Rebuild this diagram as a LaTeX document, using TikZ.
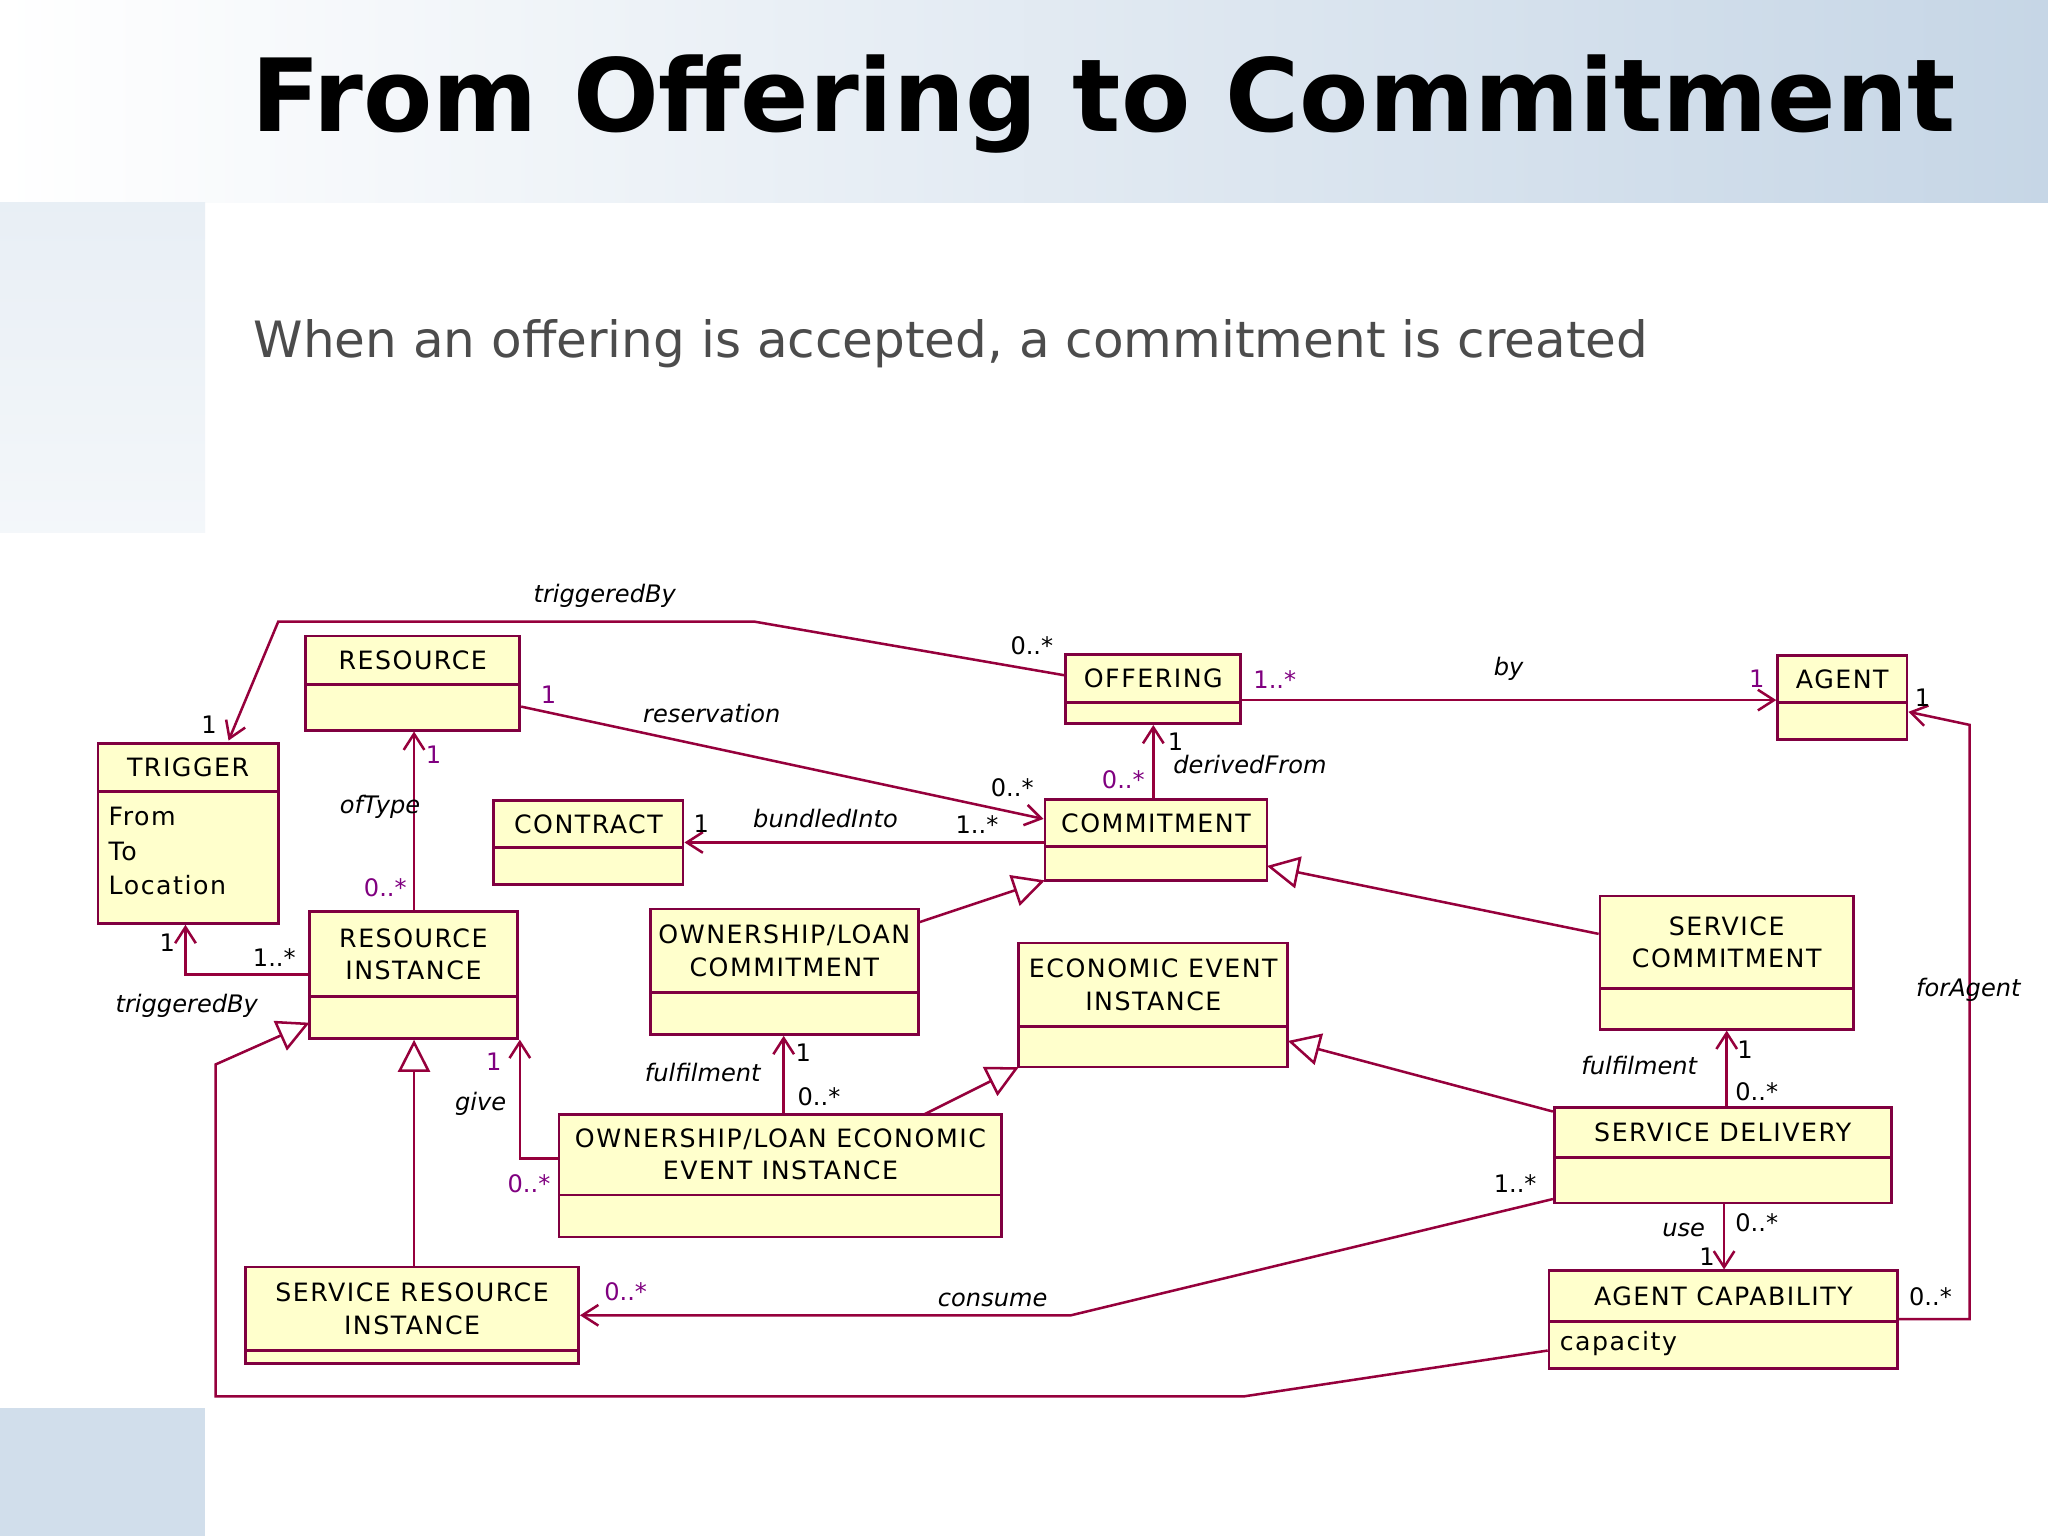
\documentclass[tikz,border=0pt]{standalone}
\usepackage{fontspec}
\setmainfont{DejaVu Sans}
\usetikzlibrary{arrows.meta,fit}
\definecolor{boxfill}{RGB}{255,255,204}
\definecolor{boxline}{RGB}{128,0,64}
\definecolor{lnk}{RGB}{150,0,60}
\definecolor{mult}{RGB}{128,0,128}
\definecolor{hdr}{RGB}{198,214,230}
\tikzset{
  umlbox/.style={draw=boxline,fill=boxfill,line width=1.2pt,inner sep=0pt},
  assoc/.style={draw=lnk,line width=1.1pt,-{Straight Barb[length=7pt,width=9pt]}},
  plain/.style={draw=lnk,line width=1.1pt},
  gen/.style={draw=lnk,line width=1.1pt,-{Triangle[open,length=14pt,width=14pt,fill=white]}},
  btxt/.style={font=\fontsize{11}{14}\selectfont\addfontfeatures{LetterSpace=6},align=center},
  lbl/.style={font=\fontsize{10.5}{12}\selectfont\itshape,inner sep=1pt},
  ml/.style={font=\fontsize{10.5}{12}\selectfont,inner sep=1pt},
  mp/.style={ml,text=mult}
}
\newcommand{\umlb}[7]{%
  \node[umlbox,fit={(#2,#3)(#4,#5)}] (#1) {};
  \draw[boxline,line width=1.2pt] (#2,#6) -- (#4,#6);
  \node[btxt] at ({(#2+#4)/2},{(#3+#6)/2}) {#7};
}
\begin{document}
\begin{tikzpicture}[x=0.02cm,y=-0.02cm]
\useasboundingbox (0,0) rectangle (1568,1176);
\fill[white] (0,0) rectangle (1568,1176);
\shade[left color=white,right color=hdr] (0,0) rectangle (1568,155);
\shade[top color=white!60!hdr,bottom color=white!80!hdr] (0,155) rectangle (157,408);
\fill[hdr!80] (0,1078) rectangle (157,1176);
\node[font=\fontsize{44}{50}\selectfont\bfseries] (title) at (845,80) {From Offering to Commitment};
\node[font=\fontsize{21.8}{26}\selectfont,text=black!70,anchor=west] (sub) at (188,263) {When an offering is accepted, a commitment is created};

\umlb{res}{234}{487}{398}{559}{524}{RESOURCE}
\umlb{trig}{75}{569}{213}{707}{606}{TRIGGER}
\node[btxt,anchor=north west,align=left] (trigattr) at (77,612) {From\\[1pt]To\\[1pt]Location};
\umlb{con}{378}{613}{523}{677}{649}{CONTRACT}
\umlb{off}{816}{501}{950}{554}{538}{OFFERING}
\umlb{ag}{1361}{502}{1460}{566}{538}{AGENT}
\umlb{com}{800}{612}{970}{674}{648}{COMMITMENT}
\umlb{olc}{498}{696}{703}{792}{760}{OWNERSHIP/LOAN\\COMMITMENT}
\umlb{ri}{237}{698}{396}{795}{763}{RESOURCE\\INSTANCE}
\umlb{eei}{780}{722}{986}{817}{786}{ECONOMIC EVENT\\INSTANCE}
\umlb{sc}{1225}{686}{1419}{788}{757}{SERVICE\\COMMITMENT}
\umlb{oleei}{428}{853}{767}{947}{915}{OWNERSHIP/LOAN ECONOMIC\\EVENT INSTANCE}
\umlb{sd}{1190}{848}{1448}{921}{886}{SERVICE DELIVERY}
\umlb{sri}{188}{970}{443}{1044}{1034}{SERVICE RESOURCE\\INSTANCE}
\umlb{ac}{1186}{973}{1453}{1048}{1012}{AGENT CAPABILITY}
\node[btxt,anchor=west] (acattr) at (1188,1029) {capacity};

% associations
\draw[assoc] (off.west |- 0,517) -- (578,476) -- (213,476) -- (175,567);
\node[lbl] at (463,456) {triggeredBy}; \node[ml] at (790,494) {0..*}; \node[ml] at (160,555) {1};
\draw[assoc] (res.east |- 0,541) -- (com.west |- 0,627);
\node[mp] at (420,532) {1}; \node[lbl] at (545,546) {reservation}; \node[ml] at (775,603) {0..*};
\draw[assoc] (ri.north -| 317,0) -- (res.south -| 317,0);
\node[mp] at (332,578) {1}; \node[lbl] at (291,618) {ofType}; \node[mp] at (295,680) {0..*};
\draw[assoc] (com.west |- 0,645) -- (con.east |- 0,645);
\node[ml] at (537,631) {1}; \node[lbl] at (632,627) {bundledInto}; \node[ml] at (748,631) {1..*};
\draw[assoc] (com.north -| 883,0) -- (off.south -| 883,0);
\node[ml] at (900,568) {1}; \node[lbl] at (957,585) {derivedFrom}; \node[mp] at (860,597) {0..*};
\draw[assoc] (off.east |- 0,536) -- (ag.west |- 0,536);
\node[mp] at (976,520) {1..*}; \node[lbl] at (1155,512) {by}; \node[mp] at (1345,520) {1};
\draw[assoc] (ac.east |- 0,1010) -- (1508,1010) -- (1508,555) -- (ag.east |- 0,545);
\node[ml] at (1472,534) {1}; \node[lbl] at (1507,758) {forAgent}; \node[ml] at (1478,993) {0..*};
\draw[assoc] (oleei.north -| 600,0) -- (olc.south -| 600,0);
\node[lbl] at (538,821) {fulfilment}; \node[ml] at (615,806) {1}; \node[ml] at (627,840) {0..*};
\draw[assoc] (sd.north -| 1322,0) -- (sc.south -| 1322,0);
\node[lbl] at (1255,816) {fulfilment}; \node[ml] at (1336,804) {1}; \node[ml] at (1345,836) {0..*};
\draw[assoc] (sd.south -| 1320,0) -- (ac.north -| 1320,0);
\node[lbl] at (1289,942) {use}; \node[ml] at (1345,936) {0..*}; \node[ml] at (1307,962) {1};
\draw[assoc] (sd.west |- 0,918) -- (820,1007) -- (sri.east |- 0,1007);
\node[ml] at (1160,906) {1..*}; \node[lbl] at (760,995) {consume}; \node[mp] at (479,989) {0..*};
\draw[assoc] (oleei.west |- 0,887) -- (398,887) -- (398,796);
\node[mp] at (378,813) {1}; \node[lbl] at (368,845) {give}; \node[mp] at (405,906) {0..*};
\draw[assoc] (ri.west |- 0,746) -- (142,746) -- (trig.south -| 142,0);
\node[ml] at (128,722) {1}; \node[ml] at (210,733) {1..*}; \node[lbl] at (143,770) {triggeredBy};

% generalizations
\draw[gen] (olc.east |- 0,706) -- (800,674);
\draw[gen] (sc.west |- 0,715) -- (970,663);
\draw[gen] (708,853) -- (780,817);
\draw[gen] (sd.west |- 0,851) -- (986,797);
\draw[gen] (sri.north -| 317,0) -- (ri.south -| 317,0);
\draw[gen] (ac.west |- 0,1034) -- (953,1069) -- (165,1069) -- (165,815) -- (237,783);
\end{tikzpicture}
\end{document}
